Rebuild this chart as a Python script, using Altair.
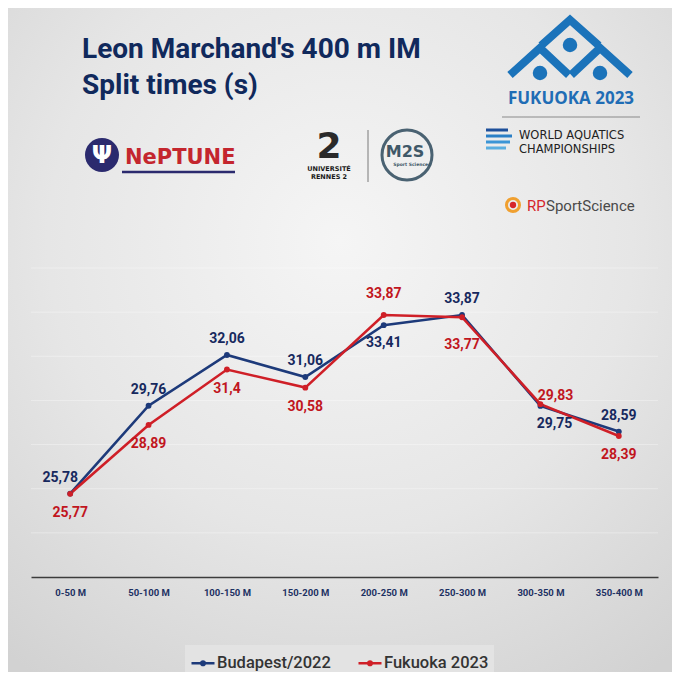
import altair as alt
import pandas as pd

# ---------------- data ----------------
segments = ["0-50 M", "50-100 M", "100-150 M", "150-200 M",
            "200-250 M", "250-300 M", "300-350 M", "350-400 M"]
budapest_2022 = [25.78, 29.76, 32.06, 31.06, 33.41, 33.87, 29.75, 28.59]
fukuoka_2023 = [25.77, 28.89, 31.40, 30.58, 33.87, 33.77, 29.83, 28.39]
series_names = ["Budapest/2022", "Fukuoka 2023"]
series_colors = ["#1d3a7a", "#cf1f27"]
label_colors = ["#17295e", "#c1161e"]
y_grid_values = [24, 26, 28, 30, 32, 34, 36]

rows = []
for s_name, vals, other in [(series_names[0], budapest_2022, fukuoka_2023),
                            (series_names[1], fukuoka_2023, budapest_2022)]:
    for i, seg in enumerate(segments):
        rows.append({"segment": seg, "idx": i, "series": s_name,
                     "value": vals[i], "other": other[i]})
long_df = pd.DataFrame(rows)
grid_df = pd.DataFrame({"g": y_grid_values})

# ---------------- layout ----------------
W, H = 627, 309
OX, OY = 31, 268          # page position of the plot origin
PAD = {"left": OX - 8, "top": OY - 8, "right": 664 - (OX - 8) - W,
       "bottom": 664 - (OY - 8) - H}


def px(x):
    return x - OX


def py(y):
    return y - OY


FONT_C = "Roboto"
NAVY = "#10295c"

one = pd.DataFrame({"k": [0]})

X = alt.X("segment:N", sort=segments,
          scale=alt.Scale(type="point", padding=0.5),
          axis=alt.Axis(title=None, labelAngle=0, ticks=False, tickSize=0,
                        domainColor="#3c3c3c", domainWidth=1.5,
                        labelFont=FONT_C, labelFontWeight="bold",
                        labelFontSize=9.5, labelColor="#1d3163",
                        labelPadding=10, grid=False, zindex=1))
y_scale = alt.Scale(domain=[22, 36], zero=False, nice=False)
Y = alt.Y("value:Q", scale=y_scale, axis=None)

color_scale = alt.Scale(domain=series_names, range=series_colors)

base = alt.Chart(long_df)

grid = alt.Chart(grid_df).mark_rule(color="#ffffff", opacity=0.35,
                                    strokeWidth=1).encode(
    y=alt.Y("g:Q", scale=y_scale, axis=None))

line = base.mark_line(strokeWidth=2.6).encode(
    x=X, y=Y,
    order=alt.Order("idx:Q"),
    color=alt.Color("series:N", scale=color_scale, legend=alt.Legend(
        title=None, orient="none", legendX=px(185), legendY=py(645),
        direction="horizontal", fillColor="#e3e3e3", padding=5,
        symbolType="M-1,0L1,0M0.16,0A0.16,0.16,0,1,1,-0.16,0A0.16,0.16,0,1,1,0.16,0",
        symbolSize=529, symbolStrokeWidth=2.5,
        labelFont=FONT_C, labelFontSize=16.5, labelFontWeight=500,
        labelColor="#333333", columnPadding=22, labelOffset=1)),
)

points = base.mark_circle(size=34, opacity=1).encode(
    x=X, y=Y, color=alt.Color("series:N", scale=color_scale, legend=None))


def label_layer(cond, dx, dy, color):
    return base.transform_calculate(
        label="replace(format(datum.value, '.2~f'), '.', ',')"
    ).transform_filter(cond).mark_text(
        font=FONT_C, fontWeight="bold", fontSize=14, dx=dx, dy=dy,
        baseline="middle", align="center", color=color
    ).encode(x=X, y=Y, text="label:N")


B, F = series_names
special = ("(datum.series=='%s' && (datum.segment=='0-50 M' || datum.segment=='300-350 M'))"
           " || (datum.series=='%s' && (datum.segment=='200-250 M' || datum.segment=='250-300 M'"
           " || datum.segment=='300-350 M'))") % (B, F)

labels = [
    label_layer("datum.series=='%s' && datum.value > datum.other && !(%s)" % (B, special), 0, -16, label_colors[0]),
    label_layer("datum.series=='%s' && datum.value < datum.other && !(%s)" % (B, special), 0, 18, label_colors[0]),
    label_layer("datum.series=='%s' && datum.value > datum.other && !(%s)" % (F, special), 0, -16, label_colors[1]),
    label_layer("datum.series=='%s' && datum.value < datum.other && !(%s)" % (F, special), 0, 19, label_colors[1]),
    label_layer("datum.series=='%s' && datum.segment=='0-50 M'" % B, -10, -16, label_colors[0]),
    label_layer("datum.series=='%s' && datum.segment=='300-350 M'" % B, 14, 18, label_colors[0]),
    label_layer("datum.series=='%s' && datum.segment=='200-250 M'" % F, 0, -21, label_colors[1]),
    label_layer("datum.series=='%s' && datum.segment=='250-300 M'" % F, 0, 28, label_colors[1]),
    label_layer("datum.series=='%s' && datum.segment=='300-350 M'" % F, 15, -8, label_colors[1]),
]

# ---------------- background & header decorations ----------------
bg = alt.Chart(one).mark_rect(
    color=alt.RadialGradient(
        gradient="radial",
        stops=[alt.GradientStop(color="#f5f5f5", offset=0),
               alt.GradientStop(color="#e6e6e6", offset=0.55),
               alt.GradientStop(color="#d2d2d2", offset=1)],
        x1=0.5, y1=0.35, x2=0.5, y2=0.35, r1=0, r2=0.8)
).encode(x=alt.value(-PAD["left"]), x2=alt.value(W + PAD["right"]),
         y=alt.value(-PAD["top"]), y2=alt.value(H + PAD["bottom"]))


def deco_text(text, x, y, size, color, font=FONT_C, weight="bold",
              align="left", baseline="alphabetic"):
    return alt.Chart(one).mark_text(
        text=text, font=font, fontSize=size, fontWeight=weight, color=color,
        align=align, baseline=baseline
    ).encode(x=alt.value(px(x)), y=alt.value(py(y)))


def deco_rule(x1, y1, x2, y2, color, width):
    return alt.Chart(one).mark_rule(color=color, strokeWidth=width).encode(
        x=alt.value(px(x1)), x2=alt.value(px(x2)),
        y=alt.value(py(y1)), y2=alt.value(py(y2)))


def deco_point(x, y, shape, size, color, filled=True, stroke_width=1):
    return alt.Chart(one).mark_point(
        shape=shape, size=size, filled=filled, opacity=1, color=color,
        strokeWidth=stroke_width, strokeCap="butt", strokeJoin="miter"
    ).encode(x=alt.value(px(x)), y=alt.value(py(y)))


LOGO_BLUE = "#1b73ba"
decos = [
    deco_text("Leon Marchand's 400 m IM", 82, 58, 28, NAVY),
    deco_text("Split times (s)", 82, 94, 28, NAVY),
    # Fukuoka logo
    deco_point(570, 48,
               "M-0.48,-0.04L0,-0.47L0.48,-0.04"
               "M-1,0.45L-0.5,0L-0.02,0.45"
               "M0.02,0.45L0.5,0L1,0.45",
               14400, LOGO_BLUE, filled=False, stroke_width=8),
    deco_point(570, 45, "circle", 210, LOGO_BLUE),
    deco_point(540, 73, "circle", 210, LOGO_BLUE),
    deco_point(600, 73, "circle", 210, LOGO_BLUE),
    deco_text("FUKUOKA 2023", 571, 104, 17, "#1f6db5", font="Open Sans",
              align="center"),
    deco_rule(502, 117, 640, 117, "#8a8a8a", 1.2),
    deco_rule(486, 130, 508, 130, "#1d4f9a", 3),
    deco_rule(486, 136, 512, 136, "#2a7fc6", 3),
    deco_rule(486, 142, 510, 142, "#3b95d6", 3),
    deco_rule(486, 148, 506, 148, "#5aaee0", 3),
    deco_text("WORLD AQUATICS", 519, 139, 11.5, "#222222", font="DejaVu Sans",
              weight="normal"),
    deco_text("CHAMPIONSHIPS", 519, 153, 11.5, "#222222", font="DejaVu Sans",
              weight="normal"),
    deco_point(513, 205, "circle", 170, "#f0a030", filled=False, stroke_width=3),
    deco_point(513, 205, "circle", 40, "#d6262b"),
    deco_text("RP", 527, 211, 15, "#d6262b", weight="normal"),
    deco_text("SportScience", 546, 211, 15, "#4a4a4a", weight="normal"),
    # NePTUNE
    deco_point(102, 155, "circle", 1156, "#2b2a6e"),
    deco_text("Ψ", 102, 163, 24, "#ffffff", font="DejaVu Sans",
              align="center"),
    deco_text("NePTUNE", 125, 164, 21, "#c4262e", font="DejaVu Sans"),
    deco_rule(122, 172, 235, 172, "#2b2a6e", 2.5),
    # Rennes 2 / M2S
    deco_text("2", 329, 166, 36, "#2a2a2a", font="DejaVu Sans",
              align="center", baseline="bottom"),
    deco_text("UNIVERSITÉ", 329, 166, 6.5, "#1a1a1a", font="DejaVu Sans",
              align="center", baseline="top"),
    deco_text("RENNES 2", 329, 174, 6.5, "#1a1a1a", font="DejaVu Sans",
              align="center", baseline="top"),
    deco_rule(368, 130, 368, 182, "#7a7a7a", 1),
    deco_point(407, 155, "circle", 2500, "#4a6272", filled=False, stroke_width=3),
    deco_text("M2S", 405, 157, 16, "#3f5868", font="DejaVu Sans",
              align="center"),
    deco_text("Sport Sciences", 412, 166, 4.5, "#3f5868", font="DejaVu Sans",
              align="center"),
]

chart = alt.layer(bg, grid, *decos, line, points, *labels).properties(
    width=W, height=H,
    autosize=alt.AutoSizeParams(type="none"),
    padding=PAD,
    background="#e2e2e2",
).configure_view(stroke=None)

chart.save("out.html", embed_options={"renderer": "svg", "actions": False})
